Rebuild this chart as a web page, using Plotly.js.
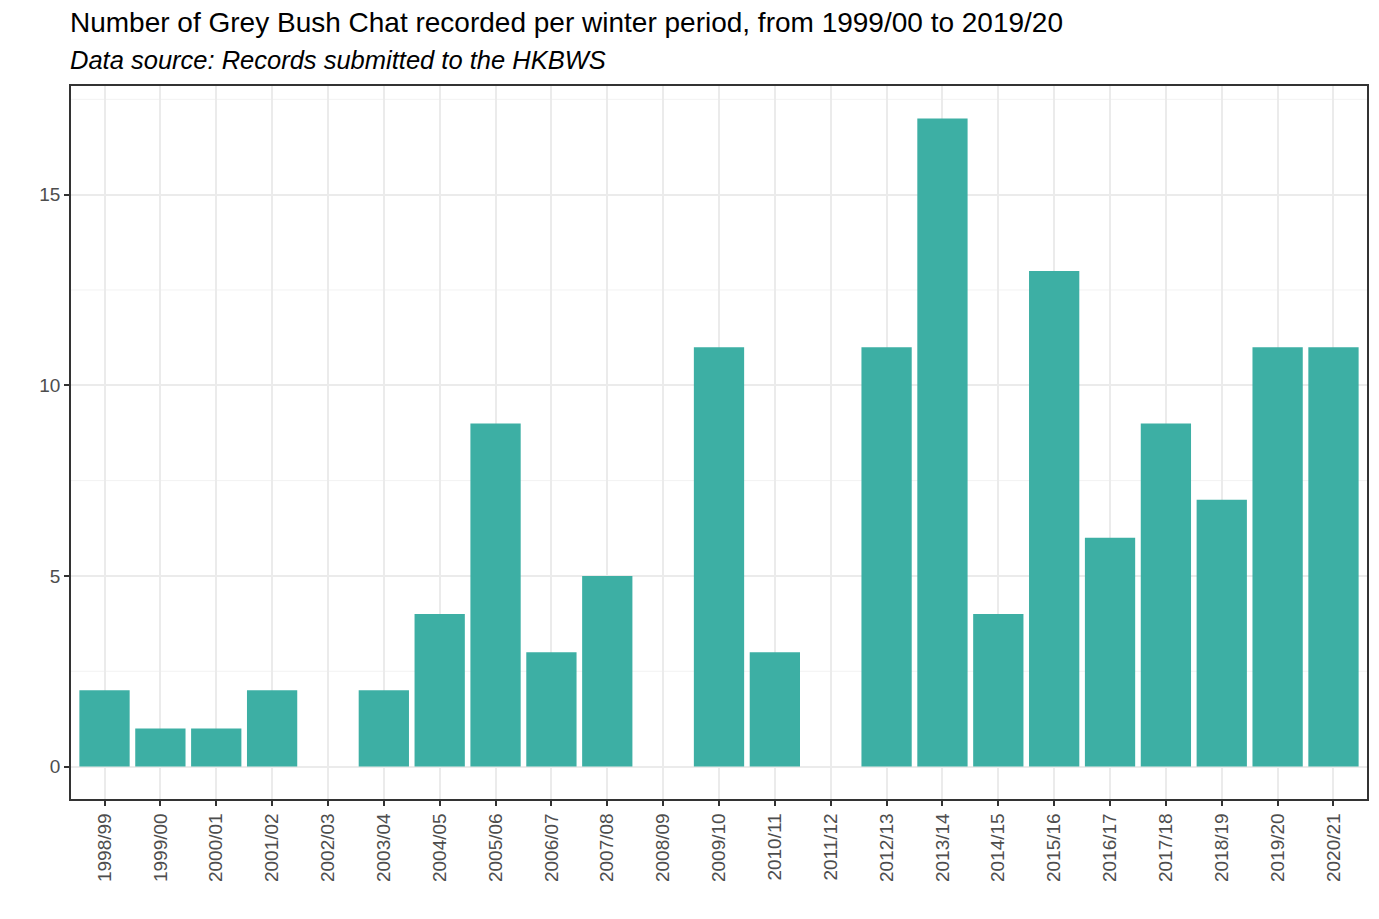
<!DOCTYPE html>
<html>
<head>
<meta charset="utf-8">
<script src="https://cdn.plot.ly/plotly-3.0.1.min.js"></script>
<style>html,body{margin:0;padding:0;background:#fff;}#chart{width:1379px;height:919px;}</style>
</head>
<body>
<div id="chart"></div>
<script>
const seasons = ["1998/99","1999/00","2000/01","2001/02","2002/03","2003/04","2004/05","2005/06","2006/07","2007/08","2008/09","2009/10","2010/11","2011/12","2012/13","2013/14","2014/15","2015/16","2016/17","2017/18","2018/19","2019/20","2020/21"];
const counts = [2,1,1,2,0,2,4,9,3,5,0,11,3,0,11,17,4,13,6,9,7,11,11];
const yTicks = [0,5,10,15];
const minorTicks = [2.5,7.5,12.5,17.5];

const trace = {
  type: 'bar',
  x: seasons,
  y: counts,
  width: 0.9,
  marker: {color: '#3DAFA4', line: {width: 0}},
  hoverinfo: 'x+y'
};

const shapes = minorTicks.map(v => ({
  type: 'line', xref: 'paper', x0: 0, x1: 1, yref: 'y', y0: v, y1: v,
  line: {color: '#F2F2F2', width: 1}, layer: 'below'
}));

const layout = {
  width: 1379, height: 919,
  margin: {l: 71, r: 12, t: 86, b: 120},
  paper_bgcolor: '#ffffff',
  plot_bgcolor: '#ffffff',
  font: {family: 'Liberation Sans, Arial, sans-serif', color: '#4D4D4D'},
  showlegend: false,
  bargap: 0.1,
  xaxis: {
    type: 'category',
    range: [-0.6, seasons.length - 1 + 0.6],
    tickangle: -90,
    tickfont: {size: 19, color: '#4D4D4D'},
    showgrid: true, gridcolor: '#EBEBEB', gridwidth: 1.5,
    ticks: 'outside', ticklen: 5, tickcolor: '#333333', tickwidth: 1.5,
    showline: true, linecolor: '#333333', linewidth: 1.5, mirror: true,
    zeroline: false, fixedrange: true
  },
  yaxis: {
    range: [-0.85, 17.85],
    tickvals: yTicks,
    ticktext: yTicks.map(String),
    tickfont: {size: 19, color: '#4D4D4D'},
    showgrid: true, gridcolor: '#EBEBEB', gridwidth: 1.5,
    ticks: 'outside', ticklen: 5, tickcolor: '#333333', tickwidth: 1.5,
    showline: true, linecolor: '#333333', linewidth: 1.5, mirror: true,
    zeroline: false, fixedrange: true
  },
  shapes: shapes,
  annotations: [
    {text: 'Number of Grey Bush Chat recorded per winter period, from 1999/00 to 2019/20',
     xref: 'paper', yref: 'paper', x: 0, y: 1, xanchor: 'left', yanchor: 'middle',
     xshift: -3, yshift: 64, showarrow: false, align: 'left',
     font: {size: 28, color: '#000000', family: 'Liberation Sans, Arial, sans-serif'}},
    {text: '<i>Data source: Records submitted to the HKBWS</i>',
     xref: 'paper', yref: 'paper', x: 0, y: 1, xanchor: 'left', yanchor: 'middle',
     xshift: -3, yshift: 26, showarrow: false, align: 'left',
     font: {size: 25.5, color: '#000000', family: 'Liberation Sans, Arial, sans-serif'}}
  ]
};

Plotly.newPlot('chart', [trace], layout, {displayModeBar: false, responsive: false});
</script>
</body>
</html>
